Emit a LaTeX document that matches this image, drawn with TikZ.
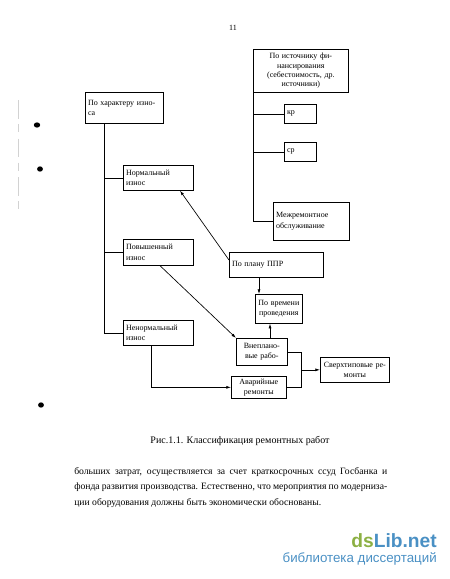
\documentclass[tikz,border=0pt]{standalone}
\usepackage{fontspec}
\setmainfont{Liberation Serif}
\newfontfamily\logofont{Liberation Sans}
\usetikzlibrary{arrows.meta,calc}
\definecolor{dsgreen}{HTML}{8CB043}
\definecolor{dsblue}{HTML}{4A90C4}
\newcommand{\justline}[1]{\makebox[234.75pt][s]{#1}}
\begin{document}
\begin{tikzpicture}[x=0.75pt,y=-0.75pt,
  bx/.style={draw, line width=0.5pt, anchor=north west, inner xsep=2pt, inner ysep=1pt,
             font=\fontsize{6}{8}\selectfont},
  conn/.style={line width=0.5pt},
  arr/.style={conn, -{Latex[length=3.5pt,width=2.2pt]}},
  bodytext/.style={anchor=base west, inner sep=0pt, font=\fontsize{7.25}{9}\selectfont},
  blob/.style={fill=black}]
\useasboundingbox (0,0) rectangle (450,579);

% page number
\node[font=\fontsize{6}{7}\selectfont] (pg) at (233,28) {11};

% right group
\node[bx, text width=67.25pt, minimum height=32.25pt, align=center, font=\fontsize{6}{7}\selectfont] (src) at (253,49)
  {\mbox{По источнику фи-}\\нансирования\\\mbox{(себестоимость, др.}\\источники)};
\node[bx, text width=20pt, minimum height=14.25pt, align=left] (kr) at (284,104) {кр};
\node[bx, text width=20pt, minimum height=14.25pt, align=left] (sr) at (284,142) {ср};
\node[bx, text width=53pt, minimum height=28.5pt, align=left] (mezh) at (273,202) {Межремонтное\\обслуживание};

% left group
\node[bx, text width=54.5pt, minimum height=23.25pt, align=left] (har) at (85,92) {\mbox{По характеру изно-}\\са};
\node[bx, text width=48.5pt, minimum height=18.75pt, align=left] (norm) at (123,165) {Нормальный\\износ};
\node[bx, text width=48.5pt, minimum height=19.5pt, align=left] (pov) at (123,239) {Повышенный\\износ};
\node[bx, text width=48.5pt, minimum height=18.75pt, align=left] (nenorm) at (123,320) {Ненормальный\\износ};

% middle group
\node[bx, text width=66.5pt, minimum height=18.75pt, align=left] (ppr) at (229,252) {По плану ППР};
\node[bx, inner xsep=1pt, text width=33.25pt, minimum height=21.75pt, align=center] (vrem) at (255,294) {\mbox{По времени}\\проведения};
\node[bx, inner xsep=1pt, text width=36.25pt, minimum height=20.25pt, align=center] (vnepl) at (236,338) {Внеплано-\\\mbox{вые рабо-}};
\node[bx, inner xsep=1pt, text width=39.25pt, minimum height=16.5pt, align=center, font=\fontsize{6}{7.5}\selectfont] (avar) at (231,376) {Аварийные\\ремонты};
\node[bx, inner xsep=1pt, text width=49.75pt, minimum height=18.75pt, align=center] (sverh) at (320,357) {\mbox{Сверхтиповые ре-}\\монты};

% connectors, right group
\coordinate (st) at (src.south west);
\draw[conn] (st) |- (kr.west);
\draw[conn] (st) |- (sr.west);
\draw[conn] (st) |- (mezh.west);

% connectors, left group
\coordinate (ht) at ($(har.south west)+(19,0)$);
\draw[conn] (ht) |- (norm.west);
\draw[conn] (ht) |- (pov.west);
\draw[conn] (ht) |- (nenorm.west);

% arrows
\coordinate (pp) at ($(ppr.north west)+(0,8)$);
\draw[arr] (pp) -- ($(norm.south west)+(57,0)$);
\draw[arr] ($(pov.south west)+(37,0)$) -- (vnepl.north west);
\coordinate (v1) at ($(vrem.north west)+(4,0)$);
\draw[arr] (v1 |- ppr.south) -- (v1);
\coordinate (v2) at ($(vrem.south west)+(15,0)$);
\draw[arr] (v2 |- vnepl.north) -- (v2);
\coordinate (n1) at ($(nenorm.south west)+(28,0)$);
\draw[arr] (n1) |- (avar.west);
\coordinate (j) at (301,0);
\draw[conn] (vnepl.east) -| (j |- avar.east) -- (avar.east);
\draw[arr] (j |- sverh.west) -- (sverh.west);

% caption and body text
\node[font=\fontsize{7.5}{9}\selectfont] (cap) at (240,441) {Рис.1.1. Классификация ремонтных работ};
\node[bodytext] (l1) at (74,474) {\justline{больших затрат, осуществляется за счет краткосрочных ссуд Госбанка и}};
\node[bodytext] (l2) at (74,489) {\justline{фонда развития производства. Естественно, что мероприятия по модерниза-}};
\node[bodytext] (l3) at (74,505) {ции оборудования должны быть экономически обоснованы.};

% logo
\node[anchor=base east, inner sep=0pt, font=\logofont\fontsize{14.4}{16}\selectfont\bfseries] (logo) at (437,547)
  {\textcolor{dsgreen}{ds}\textcolor{dsblue}{Lib.net}};
\node[anchor=base east, inner sep=0pt, text=dsblue, font=\logofont\fontsize{10}{12}\selectfont] (sub) at (437,562)
  {библиотека диссертаций};

% binding holes / scan marks
\fill[blob] (37,125) ellipse [x radius=2.4pt, y radius=2pt];
\fill[blob] (40,169) ellipse [x radius=2.2pt, y radius=2pt];
\fill[blob] (41,405) ellipse [x radius=2.2pt, y radius=2pt];
\draw[gray!35, line width=0.5pt, dash pattern=on 14pt off 4pt on 6pt off 5pt] (18,100) -- (18,215);
\end{tikzpicture}
\end{document}
